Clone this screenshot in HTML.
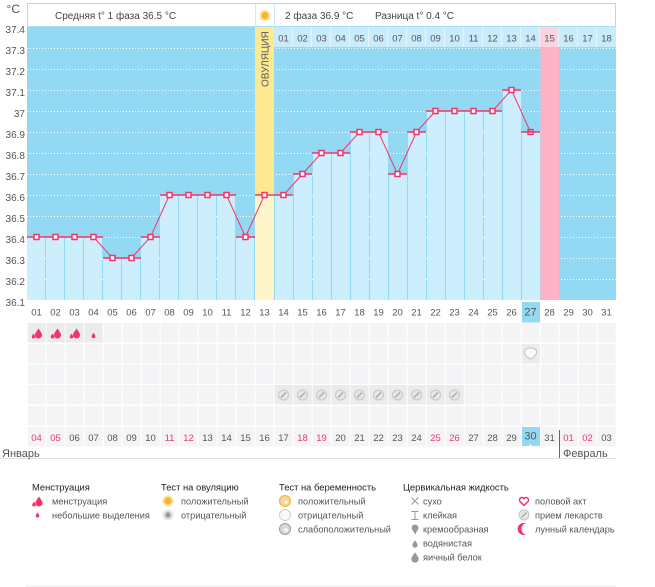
<!DOCTYPE html>
<html><head><meta charset="utf-8"><style>
html,body{margin:0;padding:0;background:#fff;}
svg{display:block;font-family:"Liberation Sans","DejaVu Sans",sans-serif;}
</style></head><body>
<svg width="655" height="587" viewBox="0 0 655 587" xmlns="http://www.w3.org/2000/svg">
<defs>
<pattern id="cellp" x="27" y="0" width="19" height="600" patternUnits="userSpaceOnUse">
<rect x="0.7" y="0" width="18" height="600" fill="#f4f4f6"/>
</pattern>
<path id="drop" d="M0,-5 C1.5,-2.5 3.5,-0.5 3.5,1.5 A3.5,3.5 0 0 1 -3.5,1.5 C-3.5,-0.5 -1.5,-2.5 0,-5Z"/>
<g id="pill"><circle r="5" fill="#e6e6e6" stroke="#c6c6c6" stroke-width="1"/><line x1="-2.5" y1="2.5" x2="2.5" y2="-2.5" stroke="#a8a8a8" stroke-width="1.3"/></g>
<g id="mens"><use href="#drop" transform="translate(2,0.5) scale(1)" fill="#f5336b"/><use href="#drop" transform="translate(-3,3) scale(0.5)" fill="#f5336b"/></g>
</defs>

<!-- y axis -->
<g font-size="10" fill="#555" text-anchor="end">
<text x="20" y="13" font-size="12" text-anchor="end">°C</text>
<text x="25" y="33">37.4</text>
<text x="25" y="54">37.3</text>
<text x="25" y="75">37.2</text>
<text x="25" y="96">37.1</text>
<text x="25" y="117">37</text>
<text x="25" y="138">36.9</text>
<text x="25" y="159">36.8</text>
<text x="25" y="180">36.7</text>
<text x="25" y="201">36.6</text>
<text x="25" y="222">36.5</text>
<text x="25" y="243">36.4</text>
<text x="25" y="264">36.3</text>
<text x="25" y="285">36.2</text>
<text x="25" y="306">36.1</text>
</g>

<!-- header -->
<rect x="27.5" y="3.5" width="588" height="23" fill="#fff" stroke="#a9dff4"/>
<line x1="255.5" y1="4" x2="255.5" y2="27" stroke="#c6eaf8"/>
<line x1="274.5" y1="4" x2="274.5" y2="27" stroke="#c6eaf8"/>
<circle cx="265" cy="15.5" r="5.5" fill="#fde2a2"/>
<circle cx="265" cy="15.5" r="3.6" fill="#f9b532"/>
<g font-size="10" fill="#444">
<text x="55" y="19">Средняя t° 1 фаза  36.5 °C</text>
<text x="285" y="19">2 фаза  36.9 °C</text>
<text x="375" y="19">Разница t° 0.4 °C</text>
</g>

<!-- chart background -->
<rect x="27" y="27" width="589" height="273" fill="#93d9f3"/>
<g stroke="#ffffff" stroke-width="1" stroke-dasharray="1 2">
<line x1="27" y1="48.5" x2="616" y2="48.5"/>
<line x1="27" y1="69.5" x2="616" y2="69.5"/>
<line x1="27" y1="90.5" x2="616" y2="90.5"/>
<line x1="27" y1="111.5" x2="616" y2="111.5"/>
<line x1="27" y1="132.5" x2="616" y2="132.5"/>
<line x1="27" y1="153.5" x2="616" y2="153.5"/>
<line x1="27" y1="174.5" x2="616" y2="174.5"/>
<line x1="27" y1="195.5" x2="616" y2="195.5"/>
<line x1="27" y1="216.5" x2="616" y2="216.5"/>
<line x1="27" y1="237.5" x2="616" y2="237.5"/>
<line x1="27" y1="258.5" x2="616" y2="258.5"/>
<line x1="27" y1="279.5" x2="616" y2="279.5"/>
</g>

<!-- phase 2 header row -->
<rect x="274" y="27" width="342" height="20" fill="#c8ecfb"/>
<rect x="540" y="27" width="19" height="20" fill="#fcd3df"/>
<g stroke="#e3f5fd" stroke-width="1">
<line x1="292.5" y1="27" x2="292.5" y2="47"/><line x1="311.5" y1="27" x2="311.5" y2="47"/><line x1="330.5" y1="27" x2="330.5" y2="47"/><line x1="349.5" y1="27" x2="349.5" y2="47"/><line x1="368.5" y1="27" x2="368.5" y2="47"/><line x1="387.5" y1="27" x2="387.5" y2="47"/><line x1="406.5" y1="27" x2="406.5" y2="47"/><line x1="425.5" y1="27" x2="425.5" y2="47"/><line x1="444.5" y1="27" x2="444.5" y2="47"/><line x1="463.5" y1="27" x2="463.5" y2="47"/><line x1="482.5" y1="27" x2="482.5" y2="47"/><line x1="501.5" y1="27" x2="501.5" y2="47"/><line x1="520.5" y1="27" x2="520.5" y2="47"/><line x1="539.5" y1="27" x2="539.5" y2="47"/><line x1="558.5" y1="27" x2="558.5" y2="47"/><line x1="577.5" y1="27" x2="577.5" y2="47"/><line x1="596.5" y1="27" x2="596.5" y2="47"/>
</g>
<g font-size="9.5" fill="#555" text-anchor="middle">
<text x="283.5" y="41.5">01</text><text x="302.5" y="41.5">02</text><text x="321.5" y="41.5">03</text><text x="340.5" y="41.5">04</text><text x="359.5" y="41.5">05</text><text x="378.5" y="41.5">06</text><text x="397.5" y="41.5">07</text><text x="416.5" y="41.5">08</text><text x="435.5" y="41.5">09</text><text x="454.5" y="41.5">10</text><text x="473.5" y="41.5">11</text><text x="492.5" y="41.5">12</text><text x="511.5" y="41.5">13</text><text x="530.5" y="41.5">14</text><text x="549.5" y="41.5">15</text><text x="568.5" y="41.5">16</text><text x="587.5" y="41.5">17</text><text x="606.5" y="41.5">18</text>
</g>

<!-- pink column -->
<rect x="540.5" y="47" width="18.5" height="253" fill="#fdb2c6"/>

<!-- ovulation column -->
<rect x="255" y="27" width="19" height="168" fill="#fde992"/>
<rect x="255" y="195" width="19" height="105" fill="#fef5cb"/>
<text transform="translate(268.5,87) rotate(-90)" font-size="10" fill="#555">ОВУЛЯЦИЯ</text>

<!-- bars -->
<g fill="#cdeefc">
<rect x="27" y="237" width="18" height="63"/>
<rect x="46" y="237" width="18" height="63"/>
<rect x="65" y="237" width="18" height="63"/>
<rect x="84" y="237" width="18" height="63"/>
<rect x="103" y="258" width="18" height="42"/>
<rect x="122" y="258" width="18" height="42"/>
<rect x="141" y="237" width="18" height="63"/>
<rect x="160" y="195" width="18" height="105"/>
<rect x="179" y="195" width="18" height="105"/>
<rect x="198" y="195" width="18" height="105"/>
<rect x="217" y="195" width="18" height="105"/>
<rect x="236" y="237" width="18" height="63"/>
<rect x="275" y="195" width="18" height="105"/>
<rect x="294" y="174" width="18" height="126"/>
<rect x="313" y="153" width="18" height="147"/>
<rect x="332" y="153" width="18" height="147"/>
<rect x="351" y="132" width="18" height="168"/>
<rect x="370" y="132" width="18" height="168"/>
<rect x="389" y="174" width="18" height="126"/>
<rect x="408" y="132" width="18" height="168"/>
<rect x="427" y="111" width="18" height="189"/>
<rect x="446" y="111" width="18" height="189"/>
<rect x="465" y="111" width="18" height="189"/>
<rect x="484" y="111" width="18" height="189"/>
<rect x="503" y="90" width="18" height="210"/>
<rect x="522" y="132" width="18" height="168"/>
</g>

<!-- temperature line -->
<polyline fill="none" stroke="#f5336b" stroke-width="1" points="36.5,237 55.5,237 74.5,237 93.5,237 112.5,258 131.5,258 150.5,237 169.5,195 188.5,195 207.5,195 226.5,195 245.5,237 264.5,195 283.5,195 302.5,174 321.5,153 340.5,153 359.5,132 378.5,132 397.5,174 416.5,132 435.5,111 454.5,111 473.5,111 492.5,111 511.5,90 530.5,132"/>
<path fill="none" stroke="#f5336b" stroke-width="1.6" d="M27,237h76M103,258h38M141,237h19M160,195h76M236,237h19M255,195h38M293,174h19M312,153h38M350,132h38M388,174h19M407,132h19M426,111h76M502,90h19M521,132h19"/>
<g fill="#fff" stroke="#f5336b" stroke-width="1.5">
<rect x="34" y="234.5" width="5" height="5"/><rect x="53" y="234.5" width="5" height="5"/><rect x="72" y="234.5" width="5" height="5"/><rect x="91" y="234.5" width="5" height="5"/>
<rect x="110" y="255.5" width="5" height="5"/><rect x="129" y="255.5" width="5" height="5"/><rect x="148" y="234.5" width="5" height="5"/>
<rect x="167" y="192.5" width="5" height="5"/><rect x="186" y="192.5" width="5" height="5"/><rect x="205" y="192.5" width="5" height="5"/><rect x="224" y="192.5" width="5" height="5"/>
<rect x="243" y="234.5" width="5" height="5"/><rect x="262" y="192.5" width="5" height="5"/><rect x="281" y="192.5" width="5" height="5"/>
<rect x="300" y="171.5" width="5" height="5"/><rect x="319" y="150.5" width="5" height="5"/><rect x="338" y="150.5" width="5" height="5"/>
<rect x="357" y="129.5" width="5" height="5"/><rect x="376" y="129.5" width="5" height="5"/><rect x="395" y="171.5" width="5" height="5"/>
<rect x="414" y="129.5" width="5" height="5"/><rect x="433" y="108.5" width="5" height="5"/><rect x="452" y="108.5" width="5" height="5"/>
<rect x="471" y="108.5" width="5" height="5"/><rect x="490" y="108.5" width="5" height="5"/><rect x="509" y="87.5" width="5" height="5"/>
</g>
<rect x="528" y="129.5" width="5" height="5" fill="none" stroke="#e8336b" stroke-width="1.3"/>

<!-- day labels row -->
<rect x="522" y="302" width="18" height="20.5" fill="#93d9f3"/>
<g font-size="9.5" fill="#555" text-anchor="middle">
<text x="36.5" y="315.5">01</text><text x="55.5" y="315.5">02</text><text x="74.5" y="315.5">03</text><text x="93.5" y="315.5">04</text><text x="112.5" y="315.5">05</text><text x="131.5" y="315.5">06</text><text x="150.5" y="315.5">07</text><text x="169.5" y="315.5">08</text><text x="188.5" y="315.5">09</text><text x="207.5" y="315.5">10</text><text x="226.5" y="315.5">11</text><text x="245.5" y="315.5">12</text><text x="264.5" y="315.5">13</text><text x="283.5" y="315.5">14</text><text x="302.5" y="315.5">15</text><text x="321.5" y="315.5">16</text><text x="340.5" y="315.5">17</text><text x="359.5" y="315.5">18</text><text x="378.5" y="315.5">19</text><text x="397.5" y="315.5">20</text><text x="416.5" y="315.5">21</text><text x="435.5" y="315.5">22</text><text x="454.5" y="315.5">23</text><text x="473.5" y="315.5">24</text><text x="492.5" y="315.5">25</text><text x="511.5" y="315.5">26</text><text x="530.5" y="315.5" font-size="11">27</text><text x="549.5" y="315.5">28</text><text x="568.5" y="315.5">29</text><text x="587.5" y="315.5">30</text><text x="606.5" y="315.5">31</text>
</g>

<!-- grid rows -->
<rect x="27" y="323" width="589" height="19.5" fill="url(#cellp)"/>
<rect x="27" y="344" width="589" height="19.5" fill="url(#cellp)"/>
<rect x="27" y="364.5" width="589" height="19.5" fill="url(#cellp)"/>
<rect x="27" y="385" width="589" height="19.5" fill="url(#cellp)"/>
<rect x="27" y="406" width="589" height="19.5" fill="url(#cellp)"/>
<rect x="27" y="427" width="589" height="19.5" fill="url(#cellp)"/>

<!-- content cells -->
<g fill="#ebebeb">
<rect x="27.7" y="323" width="18" height="19.5"/><rect x="46.7" y="323" width="18" height="19.5"/><rect x="65.7" y="323" width="18" height="19.5"/><rect x="84.7" y="323" width="18" height="19.5"/>
<rect x="521.7" y="344" width="18" height="19.5"/>
<rect x="274.7" y="385" width="18" height="19.5"/><rect x="293.7" y="385" width="18" height="19.5"/><rect x="312.7" y="385" width="18" height="19.5"/><rect x="331.7" y="385" width="18" height="19.5"/><rect x="350.7" y="385" width="18" height="19.5"/><rect x="369.7" y="385" width="18" height="19.5"/><rect x="388.7" y="385" width="18" height="19.5"/><rect x="407.7" y="385" width="18" height="19.5"/><rect x="426.7" y="385" width="18" height="19.5"/><rect x="445.7" y="385" width="18" height="19.5"/>
</g>
<!-- menstruation icons -->
<use href="#mens" transform="translate(36.5,333)"/>
<use href="#mens" transform="translate(55.5,333)"/>
<use href="#mens" transform="translate(74.5,333)"/>
<use href="#drop" transform="translate(93.5,335.5) scale(0.55)" fill="#f5336b"/>
<!-- pregnancy test negative -->
<path d="M524.5,352 q0,-4 6,-4 q6,0 6,4 q0,3 -3,5 l-3,2 l-3,-2 q-3,-2 -3,-5z" fill="#fafafa" stroke="#c2c2c2" stroke-width="1"/>
<!-- pills -->
<use href="#pill" transform="translate(283.5,395)"/><use href="#pill" transform="translate(302.5,395)"/><use href="#pill" transform="translate(321.5,395)"/><use href="#pill" transform="translate(340.5,395)"/><use href="#pill" transform="translate(359.5,395)"/><use href="#pill" transform="translate(378.5,395)"/><use href="#pill" transform="translate(397.5,395)"/><use href="#pill" transform="translate(416.5,395)"/><use href="#pill" transform="translate(435.5,395)"/><use href="#pill" transform="translate(454.5,395)"/>

<!-- date row -->
<rect x="522" y="427" width="18" height="19" fill="#93d9f3"/>
<path d="M529,446 l1.5,-2 l1.5,2z" fill="#fff"/>
<g font-size="9.5" fill="#555" text-anchor="middle">
<text x="36.5" y="441" fill="#f5336b">04</text><text x="55.5" y="441" fill="#f5336b">05</text><text x="74.5" y="441">06</text><text x="93.5" y="441">07</text><text x="112.5" y="441">08</text><text x="131.5" y="441">09</text><text x="150.5" y="441">10</text><text x="169.5" y="441" fill="#f5336b">11</text><text x="188.5" y="441" fill="#f5336b">12</text><text x="207.5" y="441">13</text><text x="226.5" y="441">14</text><text x="245.5" y="441">15</text><text x="264.5" y="441">16</text><text x="283.5" y="441">17</text><text x="302.5" y="441" fill="#f5336b">18</text><text x="321.5" y="441" fill="#f5336b">19</text><text x="340.5" y="441">20</text><text x="359.5" y="441">21</text><text x="378.5" y="441">22</text><text x="397.5" y="441">23</text><text x="416.5" y="441">24</text><text x="435.5" y="441" fill="#f5336b">25</text><text x="454.5" y="441" fill="#f5336b">26</text><text x="473.5" y="441">27</text><text x="492.5" y="441">28</text><text x="511.5" y="441">29</text><text x="530.5" y="439.5" font-size="11">30</text><text x="549.5" y="441">31</text><text x="568.5" y="441" fill="#f5336b">01</text><text x="587.5" y="441" fill="#f5336b">02</text><text x="606.5" y="441">03</text>
</g>
<line x1="0" y1="458.5" x2="616" y2="458.5" stroke="#e2e2e2"/>
<line x1="559.5" y1="430" x2="559.5" y2="458" stroke="#666"/>
<text x="2" y="457" font-size="11" fill="#555">Январь</text>
<text x="563" y="457" font-size="11" fill="#555">Февраль</text>

<!-- legend -->
<g font-size="9.4" fill="#222">
<text x="32" y="490.5">Менструация</text>
<text x="161" y="490.5">Тест на овуляцию</text>
<text x="279" y="490.5">Тест на беременность</text>
<text x="403" y="490.5">Цервикальная жидкость</text>
</g>
<g font-size="9.2" fill="#555">
<text x="52" y="504.5">менструация</text>
<text x="52" y="518.5">небольшие выделения</text>
<text x="181" y="504.5">положительный</text>
<text x="181" y="518.5">отрицательный</text>
<text x="298" y="504.5">положительный</text>
<text x="298" y="518.5">отрицательный</text>
<text x="298" y="532.5">слабоположительный</text>
<text x="423" y="504.5">сухо</text>
<text x="423" y="518.5">клейкая</text>
<text x="423" y="532.5">кремообразная</text>
<text x="423" y="546.5">водянистая</text>
<text x="423" y="560.5">яичный белок</text>
<text x="535" y="504.5">половой акт</text>
<text x="535" y="518.5">прием лекарств</text>
<text x="535" y="532.5">лунный календарь</text>
</g>
<!-- legend icons -->
<use href="#mens" transform="translate(37,501)"/>
<use href="#drop" transform="translate(37.5,515) scale(0.5)" fill="#f5336b"/>
<circle cx="168" cy="501" r="5.5" fill="#fde2a2"/><circle cx="168" cy="501" r="3.6" fill="#f9b532"/>
<circle cx="168" cy="515" r="5.5" fill="#e4e4e4"/><circle cx="168" cy="515" r="3.2" fill="#b5b5b5"/><circle cx="168" cy="515" r="1.5" fill="#888"/>
<circle cx="285" cy="501" r="5.5" fill="#fcd48a" stroke="#eab24f"/><circle cx="286" cy="502" r="2" fill="#fff" opacity="0.7"/>
<circle cx="285" cy="515" r="5.5" fill="#f8f8f8" stroke="#cfcfcf"/>
<circle cx="285" cy="529" r="5.5" fill="#d8d8d8" stroke="#9c9c9c"/><circle cx="286" cy="530" r="2.2" fill="#f2f2f2"/>
<g stroke="#999" stroke-width="1" fill="none">
<path d="M411.5,497.5 l7,7 M418.5,497.5 l-7,7"/>
<path d="M411.5,511.5 h7 M411.5,519.5 h7 M415,511.5 v8"/>
</g>
<path d="M412,526 q3,-3 6,0 q1,3 -1,5 l-2,4 l-1,-3 q-3,-2 -2,-6z" fill="#999"/>
<use href="#drop" transform="translate(415,544) scale(0.75)" fill="#999"/>
<use href="#drop" transform="translate(415,557.5) scale(1.05)" fill="#999"/>
<path d="M524,505.5 l-4,-4 a2.3,2.3 0 0 1 4,-3 a2.3,2.3 0 0 1 4,3z" fill="none" stroke="#f5336b" stroke-width="1.5"/>
<use href="#pill" transform="translate(524,515)"/>
<path d="M526,523.5 a6,6 0 1 0 0,11 a4.5,5.5 0 0 1 0,-11z" fill="#f5336b"/>
<line x1="26" y1="586" x2="616" y2="586" stroke="#e8e8e8"/>
</svg>
</body></html>
